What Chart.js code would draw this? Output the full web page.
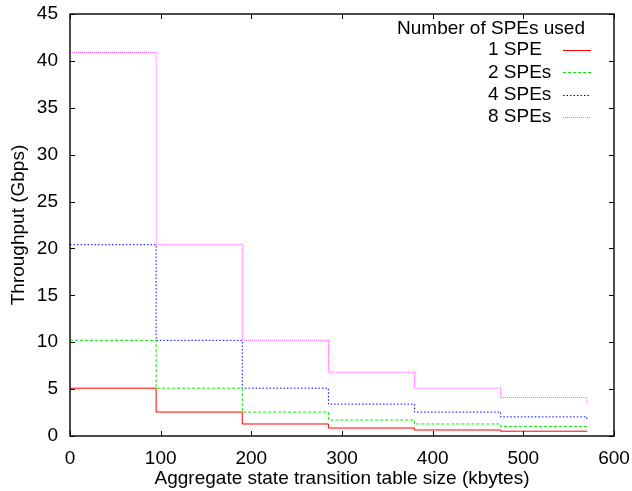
<!DOCTYPE html>
<html>
<head>
<meta charset="utf-8">
<script src="https://cdn.jsdelivr.net/npm/chart.js@4/dist/chart.umd.min.js"></script>
<style>
  html, body { margin: 0; padding: 0; background: #fff; }
  #wrap { width: 632px; height: 491px; }
</style>
</head>
<body>
<div id="wrap"><canvas id="chart" width="632" height="491"></canvas></div>
<script>
// table size (kbytes) at each step
const tableSizes = [0, 95, 190, 285, 380, 475, 570];
// throughput (Gbps) per number of SPEs
const spe1 = [5.1, 2.55, 1.28, 0.85, 0.64, 0.51, 0.43];
const spe2 = [10.2, 5.1, 2.55, 1.7, 1.28, 1.02, 0.85];
const spe4 = [20.4, 10.2, 5.1, 3.4, 2.55, 2.04, 1.7];
const spe8 = [40.9, 20.4, 10.2, 6.8, 5.1, 4.1, 3.4];
const seriesLabels = ['1 SPE', '2 SPEs', '4 SPEs', '8 SPEs'];
const legendTitle = 'Number of SPEs used';
const xTicks = [0, 100, 200, 300, 400, 500, 600];
const yTicks = [0, 5, 10, 15, 20, 25, 30, 35, 40, 45];

const FONT = 'Liberation Sans, Arial, Helvetica, sans-serif';
const FSIZE = 19;

const styles = [
  { color: '#ff0000', dash: [] },
  { color: '#00ee00', dash: [3, 2] },
  { color: '#0000ff', dash: [1.5, 2] },
  { color: '#ff55ff', dash: [1, 1] }
];

function toPoints(values) {
  return values.map((v, i) => ({ x: tableSizes[i], y: v }));
}

const datasets = [spe1, spe2, spe4, spe8].map((vals, i) => ({
  label: seriesLabels[i],
  data: toPoints(vals),
  stepped: 'before',
  borderColor: styles[i].color,
  borderDash: styles[i].dash,
  borderWidth: 1,
  pointRadius: 0,
  fill: false
}));

// gnuplot-like frame with inward ticks on all four sides
const framePlugin = {
  id: 'frame',
  afterDatasetsDraw(chart) {
    const { ctx, chartArea: a, scales } = chart;
    ctx.save();
    ctx.strokeStyle = '#000';
    ctx.lineWidth = 1.4;
    ctx.setLineDash([]);
    ctx.strokeRect(a.left, a.top, a.right - a.left, a.bottom - a.top);
    ctx.lineWidth = 1;
    const len = 5;
    ctx.beginPath();
    xTicks.forEach(v => {
      const px = Math.round(scales.x.getPixelForValue(v)) + 0.5;
      ctx.moveTo(px, a.bottom); ctx.lineTo(px, a.bottom - len);
      ctx.moveTo(px, a.top); ctx.lineTo(px, a.top + len);
    });
    yTicks.forEach(v => {
      const py = Math.round(scales.y.getPixelForValue(v)) + 0.5;
      ctx.moveTo(a.left, py); ctx.lineTo(a.left + len, py);
      ctx.moveTo(a.right, py); ctx.lineTo(a.right - len, py);
    });
    ctx.stroke();
    ctx.restore();
  }
};

// key in the top right corner, text left, sample line right
const keyPlugin = {
  id: 'key',
  afterDatasetsDraw(chart) {
    const { ctx } = chart;
    ctx.save();
    ctx.font = FSIZE + 'px ' + FONT;
    ctx.fillStyle = '#000';
    ctx.textBaseline = 'middle';
    ctx.textAlign = 'center';
    ctx.fillText(legendTitle, 491, 29);
    ctx.textAlign = 'left';
    chart.data.datasets.forEach((ds, i) => {
      const y = 50 + i * 22.3;
      ctx.fillText(ds.label, 488, y);
      ctx.strokeStyle = ds.borderColor;
      ctx.setLineDash(ds.borderDash);
      ctx.lineWidth = 1;
      ctx.beginPath();
      ctx.moveTo(563, Math.round(y) + 0.5);
      ctx.lineTo(591, Math.round(y) + 0.5);
      ctx.stroke();
    });
    ctx.restore();
  }
};

new Chart(document.getElementById('chart'), {
  type: 'line',
  data: { datasets },
  options: {
    responsive: false,
    animation: false,
    layout: { padding: { top: 14, right: 18, left: 0, bottom: 0 } },
    plugins: { legend: { display: false }, tooltip: { enabled: false } },
    scales: {
      x: {
        type: 'linear',
        min: 0,
        max: 600,
        afterBuildTicks: s => { s.ticks = xTicks.map(v => ({ value: v })); },
        afterFit: s => { s.height = 55; s.paddingLeft = 0; s.paddingRight = 0; },
        grid: { display: false, drawTicks: false },
        border: { display: false },
        ticks: { color: '#000', padding: 11, maxRotation: 0, font: { family: FONT, size: FSIZE } },
        title: {
          display: true,
          text: 'Aggregate state transition table size (kbytes)',
          color: '#000',
          padding: { top: 0, bottom: 1 },
          font: { family: FONT, size: FSIZE }
        }
      },
      y: {
        type: 'linear',
        min: 0,
        max: 45,
        afterBuildTicks: s => { s.ticks = yTicks.map(v => ({ value: v })); },
        afterFit: s => { s.width = 70; s.paddingTop = 0; s.paddingBottom = 0; },
        grid: { display: false, drawTicks: false },
        border: { display: false },
        ticks: { color: '#000', padding: 12, font: { family: FONT, size: FSIZE } },
        title: {
          display: true,
          text: 'Throughput (Gbps)',
          color: '#000',
          padding: { top: 7, bottom: 0 },
          font: { family: FONT, size: FSIZE }
        }
      }
    }
  },
  plugins: [framePlugin, keyPlugin]
});
</script>
</body>
</html>
